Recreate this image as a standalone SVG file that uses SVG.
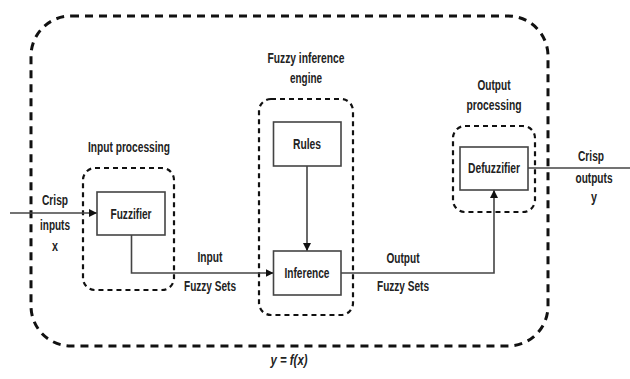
<svg xmlns="http://www.w3.org/2000/svg" width="630" height="379" viewBox="0 0 630 379">
  <defs>
    <marker id="arrow" viewBox="0 0 10 10" refX="10" refY="5" markerWidth="8" markerHeight="8" markerUnits="userSpaceOnUse" orient="auto">
      <path d="M0,0 L10,5 L0,10 z" fill="#111"/>
    </marker>
    <style>
      .lbl { font-family: "Liberation Sans", Arial, sans-serif; font-weight: bold; font-size: 14px; fill: #222; text-anchor: middle; }
      .box { fill: #fff; stroke: #444; stroke-width: 1.6; }
      .grp { fill: none; stroke: #111; stroke-width: 2.2; stroke-dasharray: 5 4; }
      .outer { fill: none; stroke: #111; stroke-width: 3; stroke-dasharray: 8 6; }
      .wire { fill: none; stroke: #444; stroke-width: 1.6; }
    </style>
  </defs>
  <rect width="630" height="379" fill="#fff"/>

  <!-- overall system boundary -->
  <g id="system">
    <rect class="outer" x="31" y="16" width="517" height="330" rx="40" ry="40"/>
    <text class="lbl" x="289" y="365" font-style="italic" textLength="37" lengthAdjust="spacingAndGlyphs">y = f(x)</text>
  </g>

  <!-- grouping boundaries -->
  <g id="input-processing">
    <rect class="grp" x="83" y="168" width="91" height="122" rx="12" ry="12"/>
    <text class="lbl" x="129" y="152" textLength="82" lengthAdjust="spacingAndGlyphs">Input processing</text>
  </g>
  <g id="inference-engine">
    <rect class="grp" x="259" y="99" width="94" height="216" rx="12" ry="12"/>
    <text class="lbl" x="306" y="63" textLength="77" lengthAdjust="spacingAndGlyphs">Fuzzy inference</text>
    <text class="lbl" x="306" y="83" textLength="32" lengthAdjust="spacingAndGlyphs">engine</text>
  </g>
  <g id="output-processing">
    <rect class="grp" x="453" y="126" width="82" height="86" rx="12" ry="12"/>
    <text class="lbl" x="494" y="90" textLength="33" lengthAdjust="spacingAndGlyphs">Output</text>
    <text class="lbl" x="494" y="110" textLength="55" lengthAdjust="spacingAndGlyphs">processing</text>
  </g>

  <!-- connectors -->
  <g id="connectors">
    <line class="wire" x1="10" y1="213" x2="97" y2="213" marker-end="url(#arrow)"/>
    <polyline class="wire" points="131.5,235 131.5,273 273.5,273" marker-end="url(#arrow)"/>
    <line class="wire" x1="307" y1="166" x2="307" y2="251" marker-end="url(#arrow)"/>
    <polyline class="wire" points="341,273 494,273 494,190" marker-end="url(#arrow)"/>
    <line class="wire" x1="528" y1="168" x2="630" y2="168"/>
  </g>

  <!-- process blocks -->
  <g id="fuzzifier">
    <rect class="box" x="97" y="192" width="68" height="43"/>
    <text class="lbl" x="131" y="219" textLength="41" lengthAdjust="spacingAndGlyphs">Fuzzifier</text>
  </g>
  <g id="rules">
    <rect class="box" x="273.5" y="122" width="67.5" height="44"/>
    <text class="lbl" x="307" y="149" textLength="28" lengthAdjust="spacingAndGlyphs">Rules</text>
  </g>
  <g id="inference">
    <rect class="box" x="273.5" y="251" width="67.5" height="44"/>
    <text class="lbl" x="307" y="278" textLength="45" lengthAdjust="spacingAndGlyphs">Inference</text>
  </g>
  <g id="defuzzifier">
    <rect class="box" x="460" y="147" width="68" height="43"/>
    <text class="lbl" x="494" y="173" textLength="52" lengthAdjust="spacingAndGlyphs">Defuzzifier</text>
  </g>

  <!-- signal labels -->
  <g id="labels">
    <text class="lbl" x="55" y="205" textLength="26" lengthAdjust="spacingAndGlyphs">Crisp</text>
    <text class="lbl" x="55" y="230" textLength="30" lengthAdjust="spacingAndGlyphs">inputs</text>
    <text class="lbl" x="55" y="251" textLength="6" lengthAdjust="spacingAndGlyphs">x</text>
    <text class="lbl" x="210" y="262" textLength="25" lengthAdjust="spacingAndGlyphs">Input</text>
    <text class="lbl" x="210" y="291" textLength="52" lengthAdjust="spacingAndGlyphs">Fuzzy Sets</text>
    <text class="lbl" x="403" y="263" textLength="33" lengthAdjust="spacingAndGlyphs">Output</text>
    <text class="lbl" x="403" y="291" textLength="52" lengthAdjust="spacingAndGlyphs">Fuzzy Sets</text>
    <text class="lbl" x="591" y="161" textLength="26" lengthAdjust="spacingAndGlyphs">Crisp</text>
    <text class="lbl" x="594" y="183" textLength="37" lengthAdjust="spacingAndGlyphs">outputs</text>
    <text class="lbl" x="594" y="202" textLength="6" lengthAdjust="spacingAndGlyphs">y</text>
  </g>
</svg>
